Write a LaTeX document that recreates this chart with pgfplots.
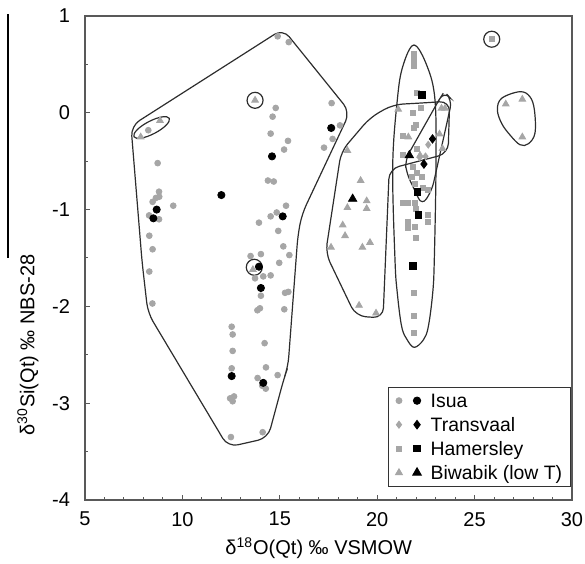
\documentclass[border=0pt]{standalone}
\usepackage{fontspec}
\setmainfont{Liberation Sans}
\usepackage{pgfplots}
\pgfplotsset{compat=1.18}
\usetikzlibrary{shapes.geometric}
\definecolor{ptgray}{RGB}{166,166,166}
\definecolor{outl}{RGB}{45,45,45}
\pgfplotsset{dotleg/.style={legend image code/.code={\draw[##1] plot coordinates {(0pt,0pt)};}}}

\begin{document}
\begin{tikzpicture}
\begin{axis}[
    name=ax,
    scale only axis,
    width=243.5pt, height=242pt,
    xmin=5, xmax=30, ymin=-4, ymax=1,
    xtick={5,10,...,30}, ytick={-4,-3,...,1},
    minor x tick num=4, minor y tick num=1,
    tick pos=left, tick align=inside,
    major tick length=2.5pt, minor tick length=1.5pt,
    axis line style={draw=black!65, line width=0.6pt},
    every tick/.style={black!65, line width=0.5pt},
    /pgf/number format/assume math mode=true,
    tick label style={font=\fontsize{10}{11}\selectfont},
    xticklabel style={yshift=-2.5pt},
    yticklabel style={xshift=-4pt},
    label style={font=\fontsize{10}{11}\selectfont},
    xlabel={δ\textsuperscript{18}O(Qt) ‰ VSMOW},
    ylabel={δ\textsuperscript{30}Si(Qt) ‰ NBS-28},
    xlabel style={at={(axis description cs:0.48,-0.099)}, anchor=center},
    ylabel style={at={(axis description cs:-0.117,0.32)}, anchor=center},
    legend columns=2,
    legend cell align=left,
    legend style={at={(rel axis cs:0.623,0.0275)}, anchor=south west,
        draw=black!80, line width=0.5pt, inner xsep=3.4pt, inner ysep=1pt,
        font=\fontsize{9.7}{11}\selectfont,
        nodes={inner sep=0.75pt, text height=0.85em, text depth=0.15em},
        row sep=0.5pt,
        /tikz/column 1/.style={column sep=0pt},
        /tikz/column 2/.style={column sep=3.8pt},
        /tikz/column 3/.style={column sep=4pt}},
]
% outlines
\addplot[outl, line width=0.6pt, rounded corners=5pt, forget plot] coordinates {
 (11.26,0.365) (15.16,0.866) (18.60,0.008) (16.14,-1.045) (15.93,-1.262)
 (15.42,-2.626) (15.22,-2.740) (14.39,-3.360) (12.34,-3.453) (8.23,-2.068)
 (7.93,-1.541) (7.36,-0.136)} -- cycle;
\addplot[outl, line width=0.6pt, rounded corners=5pt, forget plot] coordinates {
 (22.2,0.10) (23.72,0.12) (23.64,-0.42) (20.62,-0.58) (20.30,-2.12)
 (18.9,-2.10) (17.35,-1.45) (18.15,-0.40) (19.63,-0.05) (20.81,0.085)} -- cycle;
\addplot[outl, line width=0.6pt, rounded corners=4pt, forget plot] coordinates {
 (22.3,-0.178) (21.43,-0.488) (21.50,-0.62) (22.30,-0.96) (22.81,-0.80)
 (23.84,0.132) (23.45,0.22) (23.17,0.132)} -- cycle;
\draw[outl, line width=0.6pt] plot[smooth cycle, tension=0.6] coordinates {
 (21.889,0.700) (22.572,0.476) (22.967,0.132) (23.018,-0.550) (22.931,-1.521)
 (22.849,-1.862) (22.623,-2.210) (22.367,-2.347) (21.905,-2.423) (21.545,-2.347)
 (21.258,-2.210) (21.032,-1.862) (20.914,-1.521) (20.796,-0.550) (21.032,0.132)
 (21.309,0.476)};
\draw[outl, line width=0.6pt] plot[smooth cycle, tension=0.6] coordinates {
 (26.17,0.03) (26.39,0.15) (27.33,0.218) (27.84,0.166) (28.07,0.03)
 (28.10,-0.21) (27.76,-0.32) (27.33,-0.33) (26.82,-0.23) (26.39,-0.11)};
\node[draw=outl, line width=0.6pt, ellipse, inner sep=0pt, minimum width=19.9pt,
      minimum height=6.5pt, rotate=27.5] at (axis cs:8.42,-0.152) {};
\addplot[only marks, mark=o, mark size=4pt, mark options={outl, line width=0.6pt}, forget plot]
 coordinates {(13.73,0.129) (13.69,-1.596) (25.88,0.76)};

% Isua grey
\addplot[only marks, mark=*, mark size=1.45pt, color=ptgray, forget plot] coordinates {
 (8.25,-0.18) (8.73,-0.52) (8.80,-0.815) (8.64,-0.88) (8.81,-0.867) (8.47,-0.92)
 (9.53,-0.96) (8.29,-1.06) (8.80,-1.10) (8.30,-1.27) (8.47,-1.41) (8.30,-1.64) (8.46,-1.97)
 (14.89,0.79) (15.46,0.73) (17.66,0.10) (14.79,0.05) (14.63,-0.04) (14.53,-0.215)
 (15.42,-0.29) (15.22,-0.38) (18.09,-0.13) (17.71,-0.27) (17.27,-0.36) (14.39,-0.70)
 (14.69,-0.71) (15.32,-0.96) (14.84,-1.03) (14.53,-1.07) (13.93,-1.135) (14.92,-1.22)
 (15.18,-1.38) (15.49,-1.47) (13.50,-1.48) (14.03,-1.46) (14.97,-1.55) (13.73,-1.71)
 (14.15,-1.69) (14.53,-1.68) (14.03,-1.89) (15.27,-1.86) (15.44,-1.85) (13.98,-2.02)
 (13.85,-2.04) (15.23,-2.03) (12.53,-2.21) (12.58,-2.29) (14.22,-2.38) (12.58,-2.46)
 (14.29,-2.63) (12.53,-2.64) (14.89,-2.71) (13.86,-2.74) (14.28,-2.85) (14.10,-2.82)
 (12.65,-2.93) (12.58,-2.98) (12.45,-2.95) (12.49,-3.35) (14.12,-3.30)};
% Transvaal grey
\addplot[only marks, mark=diamond*, mark size=1.7pt, color=ptgray, forget plot] coordinates {
 (22.62,-0.33) (22.48,-0.45) (22.18,-0.46)};
% Hamersley grey
\addplot[only marks, mark=square*, mark size=1.25pt, color=ptgray, forget plot] coordinates {
 (21.89,0.61) (21.89,0.55) (21.89,0.48) (22.03,0.21) (22.25,0.046) (21.82,-0.005)
 (21.99,-0.126) (21.90,-0.16) (21.34,-0.24) (22.03,-0.37) (21.34,-0.44) (21.85,-0.56)
 (22.03,-0.625) (21.77,-0.66) (22.28,-0.66) (21.93,-0.73) (22.37,-0.78) (22.62,-0.80)
 (21.34,-0.935) (21.60,-0.93) (21.93,-0.935) (21.98,-0.99) (22.62,-1.056) (22.62,-1.125)
 (21.60,-1.125) (21.60,-1.19) (21.93,-1.18) (21.98,-1.29) (21.89,-1.86) (21.89,-2.10)
 (21.89,-2.27) (25.88,0.76)};
% Biwabik grey
\addplot[only marks, mark=triangle*, mark size=1.9pt, color=ptgray, forget plot] coordinates {
 (7.86,-0.25) (8.85,-0.08) (13.73,0.13) (13.62,-1.62) (18.47,-0.39) (19.15,-0.70)
 (19.46,-0.91) (18.47,-0.98) (19.46,-0.99) (18.23,-1.16) (18.35,-1.27) (19.63,-1.34)
 (19.24,-1.39) (17.63,-1.39) (19.07,-1.99) (19.94,-2.07) (21.08,0.036) (23.30,0.046)
 (23.48,0.046) (21.60,-0.25) (23.35,-0.37) (23.20,-0.22) (22.20,-0.44)
 (26.60,0.09) (27.45,0.14) (27.45,-0.25)};
% black series
\addplot[only marks, mark=*, mark size=1.8pt, color=black, forget plot] coordinates {
 (8.68,-1.0) (8.51,-1.09) (12.0,-0.85) (14.6,-0.45) (17.64,-0.157) (15.15,-1.07)
 (13.93,-1.59) (14.03,-1.81) (12.53,-2.72) (14.15,-2.79)};
\addplot[only marks, mark=diamond*, mark size=2.1pt, color=black, forget plot] coordinates {
 (22.84,-0.27) (22.40,-0.53)};
\addplot[only marks, mark=square*, mark size=1.65pt, color=black, forget plot] coordinates {
 (22.30,0.184) (22.06,-0.82) (22.11,-1.056) (21.82,-1.58)};
\addplot[only marks, mark=triangle*, mark size=2.4pt, color=black, forget plot] coordinates {
 (21.65,-0.44) (18.74,-0.89)};

% legend
\addlegendimage{only marks, mark=*, mark size=1.45pt, ptgray, dotleg}
\addlegendentry{}
\addlegendimage{only marks, mark=*, mark size=1.8pt, black, dotleg}
\addlegendentry{Isua}
\addlegendimage{only marks, mark=diamond*, mark size=1.7pt, ptgray, dotleg}
\addlegendentry{}
\addlegendimage{only marks, mark=diamond*, mark size=2.1pt, black, dotleg}
\addlegendentry{Transvaal}
\addlegendimage{only marks, mark=square*, mark size=1.25pt, ptgray, dotleg}
\addlegendentry{}
\addlegendimage{only marks, mark=square*, mark size=1.65pt, black, dotleg}
\addlegendentry{Hamersley}
\addlegendimage{only marks, mark=triangle*, mark size=1.9pt, ptgray, dotleg}
\addlegendentry{}
\addlegendimage{only marks, mark=triangle*, mark size=2.4pt, black, dotleg}
\addlegendentry{Biwabik (low T)}
\end{axis}
\draw[black, line width=0.6pt] ([xshift=-38.5pt,yshift=121pt]ax.south west) -- ([xshift=-38.5pt,yshift=243pt]ax.south west);
\pgfresetboundingbox
\path[use as bounding box] ([xshift=-42.5pt,yshift=-32pt]ax.south west) rectangle ([xshift=6.5pt,yshift=8pt]ax.north east);
\end{tikzpicture}
\end{document}
